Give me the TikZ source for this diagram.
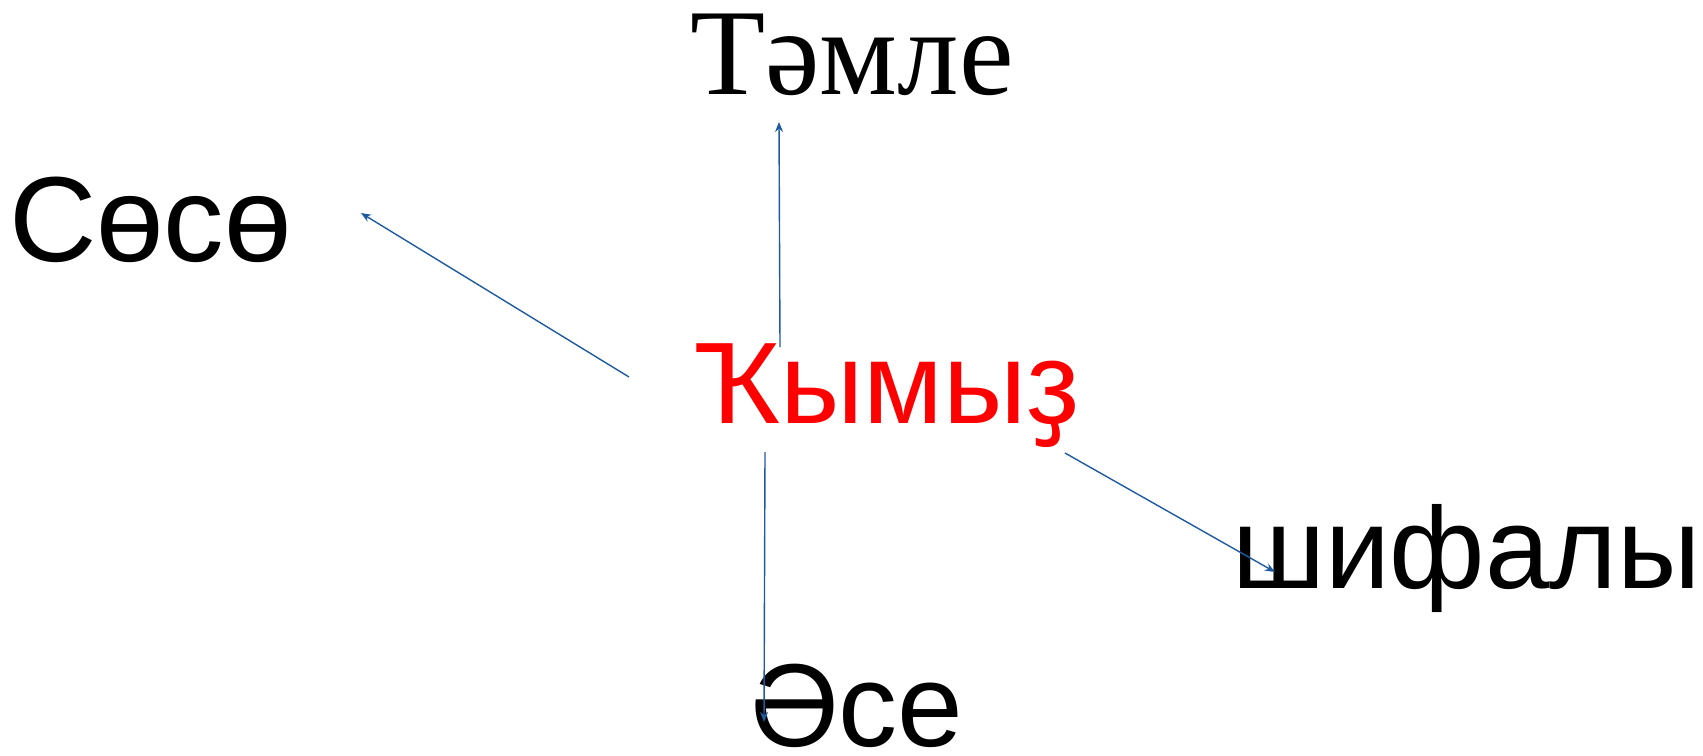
\documentclass[tikz,border=0pt]{standalone}
\usepackage{fontspec}
\setmainfont{Liberation Sans}
\newfontfamily\serifcyr{Liberation Serif}
\usetikzlibrary{arrows.meta}
\definecolor{arrowblue}{RGB}{30,90,160}
\begin{document}
\begin{tikzpicture}[x=1bp,y=-1bp,
  word/.style={anchor=base west,inner sep=0pt,outer sep=0pt},
  link/.style={draw=arrowblue,line width=1.4bp,-{Stealth[length=10bp,width=8bp]}}]
\useasboundingbox (0,0) rectangle (1703,756);
\node[word,font=\serifcyr\fontsize{123bp}{130bp}\selectfont] (taml) at (690,94) {Тәмле};
\node[word,font=\fontsize{121bp}{130bp}\selectfont] (sese) at (9,261) {Сөсө};
\node[word,red,font=\fontsize{116bp}{130bp}\selectfont] (kymyz) at (694,423) {Ҡымыҙ};
\node[word,font=\fontsize{116bp}{130bp}\selectfont] (shifaly) at (1232,588) {шифалы};
\node[word,font=\fontsize{118bp}{130bp}\selectfont] (ase) at (750,746) {Әсе};
\coordinate (s1) at (780,347);
\coordinate (e1) at (779,122);
\coordinate (s2) at (629,377);
\coordinate (e2) at (361,213);
\coordinate (s3) at (1065,453);
\coordinate (e3) at (1275,572);
\coordinate (s4) at (765,452);
\coordinate (e4) at (764,722);
\draw[link] (s1) -- (e1);
\draw[link] (s2) -- (e2);
\draw[link] (s3) -- (e3);
\draw[link] (s4) -- (e4);
\end{tikzpicture}
\end{document}
